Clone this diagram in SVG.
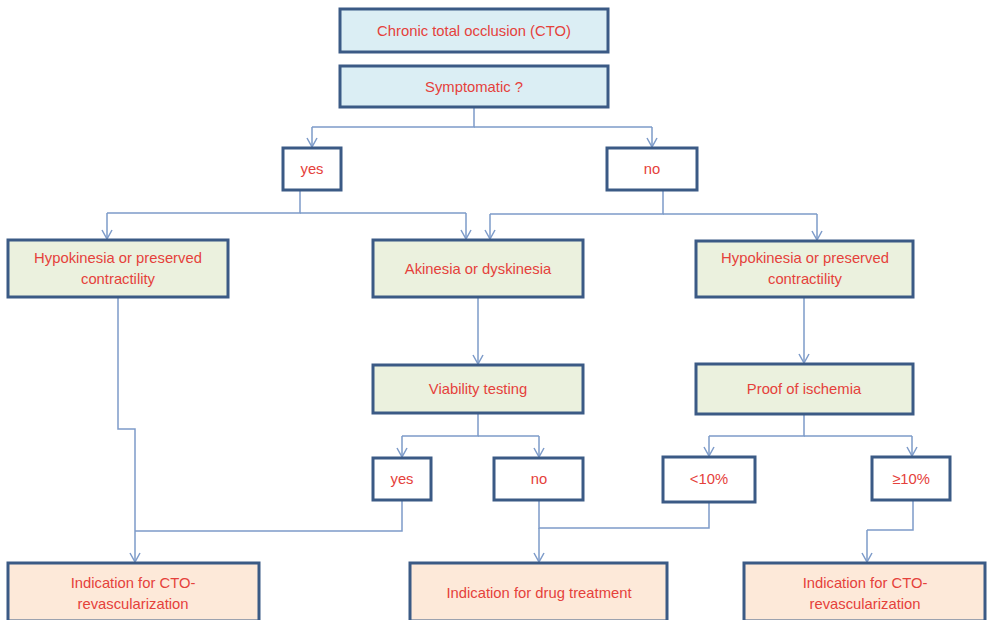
<svg xmlns="http://www.w3.org/2000/svg" width="989" height="620" viewBox="0 0 989 620">
<defs>
<style>
.box{stroke:#3b5a85;stroke-width:3}
.blue{fill:#dbeef4}
.green{fill:#ebf1de}
.orange{fill:#fde9d9}
.white{fill:#ffffff}
text{font-family:"Liberation Sans",Arial,sans-serif;font-size:14.8px;fill:#e5413b;text-anchor:middle}
.conn path{fill:none;stroke:#7d9bc9;stroke-width:1.5}
.conn .arr{marker-end:url(#ah)}
</style>
<marker id="ah" viewBox="0 0 12 12" refX="10" refY="6" markerWidth="12" markerHeight="12" markerUnits="userSpaceOnUse" orient="auto">
<path d="M1,1 L10,6 L1,11" fill="none" stroke="#7d9bc9" stroke-width="1.5"/>
</marker>
</defs>
<rect width="989" height="620" fill="#ffffff"/>
<g class="conn" id="connectors">
<path d="M474,107 V127 H312"/>
<path class="arr" d="M312,127 V147"/>
<path d="M474,127 H652"/>
<path class="arr" d="M652,127 V147"/>
<path d="M300,190 V213 H107"/>
<path class="arr" d="M107,213 V239"/>
<path d="M300,213 H466"/>
<path class="arr" d="M466,213 V239"/>
<path d="M663,190 V214 H490"/>
<path class="arr" d="M490,214 V239"/>
<path d="M663,214 H817"/>
<path class="arr" d="M817,214 V240"/>
<path class="arr" d="M478,297 V364"/>
<path class="arr" d="M804,297 V363"/>
<path d="M478,413 V436 H402"/>
<path class="arr" d="M402,436 V457"/>
<path d="M478,436 H539"/>
<path class="arr" d="M539,436 V457"/>
<path d="M804,414 V436 H709"/>
<path class="arr" d="M709,436 V456"/>
<path d="M804,436 H912"/>
<path class="arr" d="M912,436 V456"/>
<path d="M118,297 V429 H135 V531"/>
<path class="arr" d="M135,531 V562"/>
<path d="M402,500 V531 H135"/>
<path d="M539,500 V528 H709 V502"/>
<path class="arr" d="M539,528 V562"/>
<path d="M913,500 V530 H867"/>
<path class="arr" d="M867,530 V562"/>
</g>
<g id="n-cto"><rect class="box blue" x="340" y="9" width="268" height="43"/><text x="474" y="36">Chronic total occlusion (CTO)</text></g>
<g id="n-symptomatic"><rect class="box blue" x="340" y="66" width="268" height="41"/><text x="474" y="92">Symptomatic ?</text></g>
<g id="n-yes1"><rect class="box white" x="283" y="148" width="58" height="42"/><text x="312" y="174">yes</text></g>
<g id="n-no1"><rect class="box white" x="607" y="148" width="90" height="42"/><text x="652" y="174">no</text></g>
<g id="n-hypo-left"><rect class="box green" x="8" y="240" width="220" height="57"/><text x="118" y="263">Hypokinesia or preserved</text><text x="118" y="284">contractility</text></g>
<g id="n-akinesia"><rect class="box green" x="373" y="240" width="210" height="57"/><text x="478" y="274">Akinesia or dyskinesia</text></g>
<g id="n-hypo-right"><rect class="box green" x="696" y="241" width="217" height="56"/><text x="805" y="263">Hypokinesia or preserved</text><text x="805" y="284">contractility</text></g>
<g id="n-viability"><rect class="box green" x="373" y="365" width="210" height="48"/><text x="478" y="394">Viability testing</text></g>
<g id="n-ischemia"><rect class="box green" x="696" y="364" width="217" height="50"/><text x="804" y="394">Proof of ischemia</text></g>
<g id="n-yes2"><rect class="box white" x="373" y="458" width="58" height="42"/><text x="402" y="484">yes</text></g>
<g id="n-no2"><rect class="box white" x="494" y="458" width="89" height="42"/><text x="539" y="484">no</text></g>
<g id="n-lt10"><rect class="box white" x="663" y="457" width="92" height="45"/><text x="709" y="484">&lt;10%</text></g>
<g id="n-ge10"><rect class="box white" x="872" y="457" width="78" height="43"/><text x="911" y="484">≥10%</text></g>
<g id="n-cto-revasc-left"><rect class="box orange" x="8" y="563" width="251" height="58"/><text x="133" y="588">Indication for CTO-</text><text x="133" y="609">revascularization</text></g>
<g id="n-drug"><rect class="box orange" x="410" y="563" width="257" height="58"/><text x="539" y="598">Indication for drug treatment</text></g>
<g id="n-cto-revasc-right"><rect class="box orange" x="744" y="563" width="241" height="58"/><text x="865" y="588">Indication for CTO-</text><text x="865" y="609">revascularization</text></g>
</svg>
